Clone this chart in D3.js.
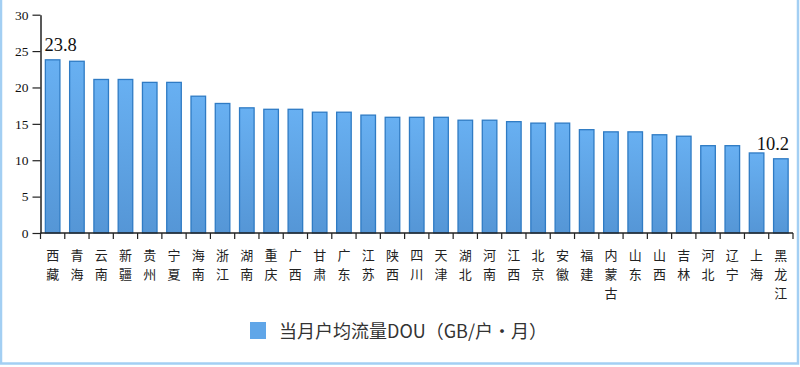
<!DOCTYPE html>
<html>
<head>
<meta charset="utf-8">
<script src="https://cdn.jsdelivr.net/npm/d3@7"></script>
<style>
  html, body { margin: 0; padding: 0; background: #fff; }
  svg { display: block; }
</style>
</head>
<body>
<svg id="chart" width="800" height="367"></svg>
<script>
const categories = ["西藏","青海","云南","新疆","贵州","宁夏","海南","浙江","湖南","重庆","广西","甘肃","广东","江苏","陕西","四川","天津","湖北","河南","江西","北京","安徽","福建","内蒙古","山东","山西","吉林","河北","辽宁","上海","黑龙江"];
const values = [23.8,23.6,21.1,21.1,20.7,20.7,18.8,17.8,17.2,17.0,17.0,16.6,16.6,16.2,15.9,15.9,15.9,15.5,15.5,15.3,15.1,15.1,14.2,13.9,13.9,13.5,13.3,12.0,12.0,11.0,10.2];
const yTicks = [0,5,10,15,20,25,30];
const seriesName = "当月户均流量DOU（GB/户•月）";
const labelled = [{cat: "西藏", text: "23.8", dx: 8}, {cat: "黑龙江", text: "10.2", dx: -8}];

const svg = d3.select("#chart");
const W = 800, H = 367;

// border
svg.append("rect").attr("x", 1).attr("y", -2).attr("width", W - 3).attr("height", H - 1.5)
  .attr("fill", "none").attr("stroke", "#a3cff3").attr("stroke-width", 2.5);

const x = d3.scaleBand().domain(categories).range([40.5, 793]).paddingInner(0.4).paddingOuter(0.2);
const y = d3.scaleLinear().domain([0, 30]).range([233, 14.7]);

const defs = svg.append("defs");
const grad = defs.append("linearGradient").attr("id", "barGrad").attr("x1", 0).attr("y1", 0).attr("x2", 0).attr("y2", 1);
grad.append("stop").attr("offset", "0%").attr("stop-color", "#68b0f2");
grad.append("stop").attr("offset", "100%").attr("stop-color", "#5596d6");

// bars
svg.append("g").selectAll("rect").data(values).join("rect")
  .attr("x", (d, i) => x(categories[i]))
  .attr("y", d => y(d))
  .attr("width", x.bandwidth())
  .attr("height", d => y(0) - y(d))
  .attr("fill", "url(#barGrad)")
  .attr("stroke", "#2f7bc4")
  .attr("stroke-width", 1.3);

// y axis
const yAxis = svg.append("g").attr("transform", "translate(40.5,0)")
  .call(d3.axisLeft(y).tickValues(yTicks).tickSize(8).tickPadding(4).tickSizeOuter(0));
yAxis.select(".domain").attr("stroke", "#222").attr("stroke-width", 1.5);
yAxis.selectAll(".tick line").attr("stroke", "#222").attr("stroke-width", 1.2);
yAxis.selectAll(".tick text").attr("font-family", "'Liberation Serif', serif").attr("font-size", 13.5).attr("fill", "#111");

// x axis line and ticks at band boundaries
const step = x.step();
const x0 = x.range()[0];
const gx = svg.append("g");
gx.append("line").attr("x1", x0).attr("x2", x.range()[1]).attr("y1", y(0)).attr("y2", y(0))
  .attr("stroke", "#222").attr("stroke-width", 1.5);
const boundaries = d3.range(categories.length + 1).map(i => x0 + i * step);
gx.selectAll("line.tk").data(boundaries).join("line").attr("class", "tk")
  .attr("x1", d => d).attr("x2", d => d).attr("y1", y(0)).attr("y2", y(0) + 6)
  .attr("stroke", "#222").attr("stroke-width", 1.2);

// category labels (vertical stacked characters, one text per character)
const catG = svg.append("g").attr("font-family", "'Noto Sans CJK SC', sans-serif").attr("font-size", 13).attr("fill", "#222");
const chars = [];
categories.forEach(c => Array.from(c).forEach((ch, j) => chars.push({c, ch, j})));
catG.selectAll("text").data(chars).join("text")
  .attr("text-anchor", "middle")
  .attr("x", d => x(d.c) + x.bandwidth() / 2)
  .attr("y", d => 259.5 + d.j * 19)
  .text(d => d.ch);

// value labels
svg.append("g").selectAll("text").data(labelled).join("text")
  .attr("x", d => x(d.cat) + x.bandwidth() / 2 + d.dx)
  .attr("y", d => y(values[categories.indexOf(d.cat)]) - 8.5)
  .attr("text-anchor", "middle")
  .attr("font-family", "'Liberation Serif', serif")
  .attr("font-size", 18.5)
  .attr("fill", "#111")
  .text(d => d.text);

// legend
const lg = svg.append("g");
lg.append("rect").attr("x", 250).attr("y", 322).attr("width", 16).attr("height", 17).attr("fill", "#60a6e8");
lg.append("text").attr("x", 279).attr("y", 337.5)
  .attr("font-family", "'Noto Sans CJK SC', sans-serif").attr("font-size", 18).attr("fill", "#333")
  .text(seriesName);
</script>
</body>
</html>
